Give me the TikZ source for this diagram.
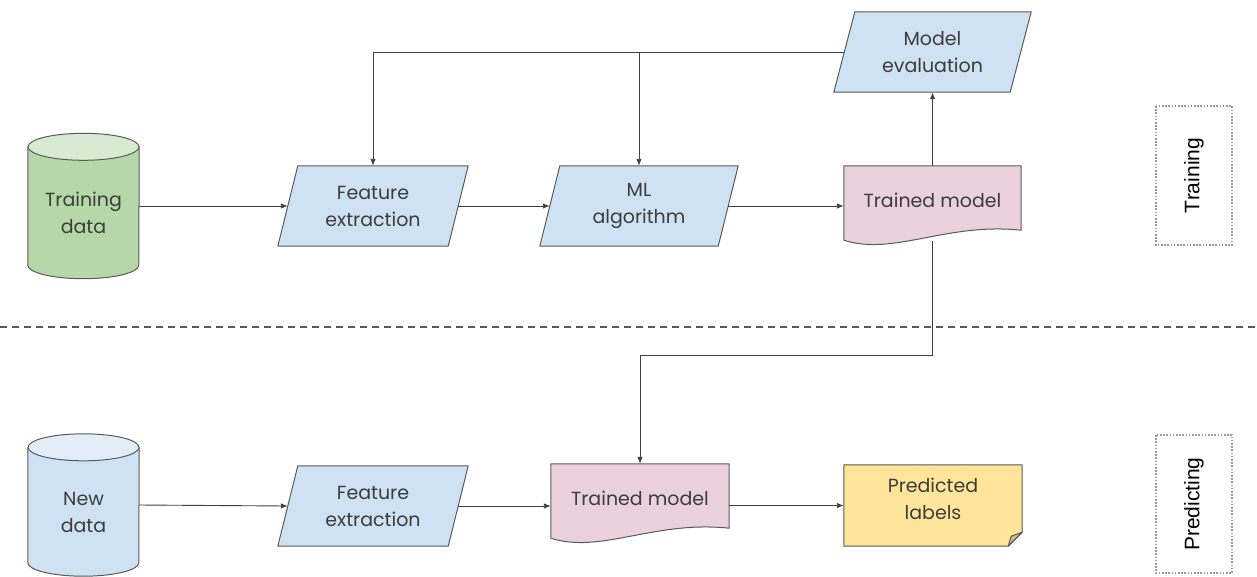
\documentclass[tikz,border=0pt]{standalone}
\usepackage{fontspec}
\setmainfont{Poppins}
\newfontfamily\phasefont{Liberation Sans}
\usetikzlibrary{arrows.meta,backgrounds,calc}

\definecolor{blueF}{HTML}{CFE2F3}
\definecolor{blueT}{HTML}{E2EDF8}
\definecolor{greenF}{HTML}{B6D7A8}
\definecolor{greenT}{HTML}{D9EAD3}
\definecolor{pinkF}{HTML}{EAD1DC}
\definecolor{yellowF}{HTML}{FFE599}
\definecolor{foldF}{HTML}{D4BE74}
\definecolor{edgeC}{HTML}{5A5A5A}
\definecolor{lineC}{HTML}{404040}
\definecolor{inkC}{HTML}{3C3C3C}
\definecolor{dotC}{HTML}{9A9A9A}

\tikzset{
  lbl/.style={inner sep=0pt, align=center, text=inkC,
    font=\fontsize{19}{27}\selectfont},
  shapeline/.style={draw=edgeC, line width=1pt, line join=round},
  conn/.style={draw=lineC, line width=0.9pt,
    -{Latex[length=7pt,width=5.5pt]}},
  phase/.style={draw=dotC, line width=1.1pt, dash pattern=on 1.6pt off 1.6pt,
    inner sep=0pt, rotate=90, text=black,
    font=\phasefont\fontsize{21}{24}\selectfont},
  separator/.style={draw=edgeC, line width=1.2pt, dash pattern=on 7pt off 5pt}
}

% parallelogram behind node #1, slanted by #2, filled with #3
\newcommand\parashape[3]{%
  \path[shapeline, fill=#3] ([xshift=#2]#1.north west) -- (#1.north east)
    -- ([xshift=-#2]#1.south east) -- (#1.south west) -- cycle;}
% document shape with a wavy lower edge
\newcommand\docshape[2]{%
  \path[shapeline, fill=#2] ([yshift=-6pt]#1.south west) -- (#1.north west)
    -- (#1.north east) -- ([yshift=4pt]#1.south east)
    .. controls ([xshift=-75pt,yshift=12pt]#1.south east)
       and ([xshift=50pt,yshift=-22pt]#1.south west)
    .. ([yshift=-6pt]#1.south west) -- cycle;}
% database cylinder, end ellipse radius #2, body #3, top #4
\newcommand\cylshape[4]{%
  \path[shapeline, fill=#3] ([yshift=-#2]#1.north west)
    -- ([yshift=#2]#1.south west)
    arc[start angle=180, end angle=360, x radius=55.5pt, y radius=#2]
    -- ([yshift=-#2]#1.north east) -- cycle;
  \path[shapeline, fill=#4] ([yshift=-#2]#1.north)
    ellipse [x radius=55.5pt, y radius=#2];}

\begin{document}
\begin{tikzpicture}[x=1pt, y=-1pt]
\useasboundingbox (0,0) rectangle (1257,576);

% ---------- training stage ----------
\node[lbl, minimum width=111pt, minimum height=145pt] (td) at (83.5,206)
  {\rule{0pt}{28pt}Training\\data};
\node[lbl, minimum width=190pt, minimum height=80pt] (fe1) at (373,206)
  {Feature\\extraction};
\node[lbl, minimum width=198pt, minimum height=80pt] (mla) at (639,206)
  {ML\\algorithm};
\node[lbl, minimum width=177pt, minimum height=68pt] (tm1) at (932.5,200)
  {Trained model};
\node[lbl, minimum width=197pt, minimum height=80pt] (me) at (932.5,52)
  {Model\\evaluation};

% ---------- predicting stage ----------
\node[lbl, minimum width=111pt, minimum height=142pt] (nd) at (83.5,505)
  {\rule{0pt}{28pt}New\\data};
\node[lbl, minimum width=190pt, minimum height=80pt] (fe2) at (373,506)
  {Feature\\extraction};
\node[lbl, minimum width=178pt, minimum height=68pt] (tm2) at (640,498)
  {Trained model};
% the deeper last line lifts the text above the folded corner
\node[lbl, minimum width=178pt, minimum height=81pt] (pl) at (933,505.5)
  {Predicted\\labels\rule[-14pt]{0pt}{0pt}};

\begin{scope}[on background layer]
  \cylshape{td}{13.5pt}{greenF}{greenT}
  \cylshape{nd}{13.5pt}{blueF}{blueT}
  \parashape{fe1}{20pt}{blueF}
  \parashape{mla}{20pt}{blueF}
  \parashape{me}{21pt}{blueF}
  \parashape{fe2}{20pt}{blueF}
  \docshape{tm1}{pinkF}
  \docshape{tm2}{pinkF}
  \path[shapeline, fill=yellowF] (pl.north west) -- (pl.north east)
    -- ([yshift=14pt]pl.south east) -- ([xshift=-14pt]pl.south east)
    -- (pl.south west) -- cycle;
  \path[shapeline, fill=foldF] ([yshift=14pt]pl.south east)
    -- ([xshift=-11pt,yshift=10pt]pl.south east)
    -- ([xshift=-14pt]pl.south east) -- cycle;
\end{scope}

% ---------- connectors ----------
\coordinate (bend) at (0,355);
\draw[conn] (td.east) -- ([xshift=10pt]fe1.west);
\draw[conn] ([xshift=-10pt]fe1.east) -- ([xshift=10pt]mla.west);
\draw[conn] ([xshift=-10pt]mla.east) -- (mla.east -| tm1.west);
\draw[conn] (tm1.north) -- (me.south);
\draw[conn] ([xshift=10.5pt]me.west) -| (fe1.north);
\draw[conn] (mla.north |- me.west) -- (mla.north);
\draw[conn] ([yshift=-7pt]tm1.south) -- (tm1.south |- bend) -| (tm2.north);
\draw[conn] (nd.east) -- ([xshift=10pt]fe2.west);
\draw[conn] ([xshift=-10pt]fe2.east) -- (fe2.east -| tm2.west);
\draw[conn] (tm2.east |- pl.west) -- (pl.west);

% ---------- stage separator and stage labels ----------
\path[separator] (0,327) -- (1257,327);
\node[phase, minimum width=139pt, minimum height=76pt] (trainphase)
  at (1194,175.5) {Training};
\node[phase, minimum width=138pt, minimum height=76pt] (predphase)
  at (1194,504) {Predicting};
\end{tikzpicture}
\end{document}
